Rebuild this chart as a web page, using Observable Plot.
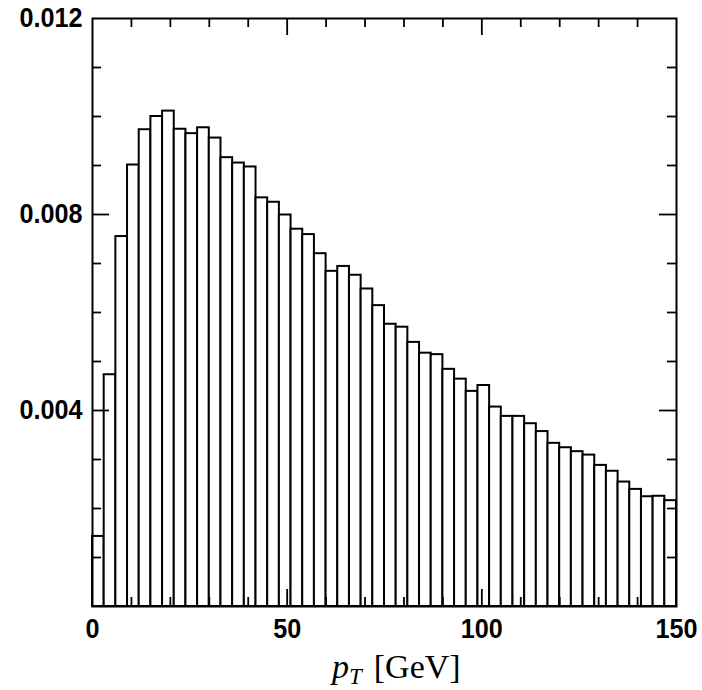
<!DOCTYPE html>
<html>
<head>
<meta charset="utf-8">
<script src="https://cdn.jsdelivr.net/npm/d3@7"></script>
<script src="https://cdn.jsdelivr.net/npm/@observablehq/plot@0.6"></script>
<style>
  body { margin: 0; background: #fff; }
  #chart svg { display: block; }
</style>
</head>
<body>
<div id="chart"></div>
<script>
// Histogram bins (GeV)
const binStart = [0,3,6,9,12,15,18,21,24,27,30,33,36,39,42,45,48,51,54,57,60,63,66,69,72,75,78,81,84,87,90,93,96,99,102,105,108,111,114,117,120,123,126,129,132,135,138,141,144,147];
const binEnd   = [3,6,9,12,15,18,21,24,27,30,33,36,39,42,45,48,51,54,57,60,63,66,69,72,75,78,81,84,87,90,93,96,99,102,105,108,111,114,117,120,123,126,129,132,135,138,141,144,147,150];
// Bin contents (normalised)
const density = [
  0.00143, 0.00473, 0.00755, 0.00901, 0.00973, 0.01000, 0.01011, 0.00974, 0.00965, 0.00977,
  0.00956, 0.00916, 0.00905, 0.00897, 0.00834, 0.00825, 0.00799, 0.00770, 0.00759, 0.00720,
  0.00684, 0.00694, 0.00676, 0.00648, 0.00614, 0.00576, 0.00570, 0.00539, 0.00517, 0.00514,
  0.00484, 0.00464, 0.00439, 0.00451, 0.00407, 0.00388, 0.00388, 0.00373, 0.00357, 0.00333,
  0.00324, 0.00316, 0.00309, 0.00288, 0.00276, 0.00254, 0.00239, 0.00224, 0.00225, 0.00216
];
// Tick labels and tick positions
const xTickLabels = [0, 50, 100, 150];
const yTickLabels = [0.004, 0.008, 0.012];
const xMajorTicks = [50, 100];
const xMinorTicks = [10, 20, 30, 40, 60, 70, 80, 90, 110, 120, 130, 140];
const yMajorTicks = [0.004, 0.008];
const yMinorTicks = [0.001, 0.002, 0.003, 0.005, 0.006, 0.007, 0.009, 0.010, 0.011];

const bins = binStart.map((s, i) => ({x1: s, x2: binEnd[i], y: density[i]}));

const W = 702, H = 690;
const mL = 92, mR = 26, mT = 18, mB = 84;
const plotW = W - mL - mR, plotH = H - mT - mB;
const minorLen = 9, majorLen = 17;
const tickFont = "'Liberation Sans', Arial, Helvetica, sans-serif";
const tickStroke = 1.8;

const chart = Plot.plot({
  width: W,
  height: H,
  marginLeft: mL,
  marginRight: mR,
  marginTop: mT,
  marginBottom: mB,
  style: {background: "white", overflow: "visible"},
  x: {domain: [0, 150]},
  y: {domain: [0, 0.012]},
  marks: [
    Plot.rectY(bins, {x1: "x1", x2: "x2", y: "y", fill: "white", stroke: "black", strokeWidth: 2}),
    // bottom ticks
    Plot.tickX(xMinorTicks, {x: d => d, insetTop: plotH - minorLen, stroke: "black", strokeWidth: tickStroke}),
    Plot.tickX(xMajorTicks, {x: d => d, insetTop: plotH - majorLen, stroke: "black", strokeWidth: tickStroke}),
    // top ticks
    Plot.tickX(xMinorTicks, {x: d => d, insetBottom: plotH - minorLen, stroke: "black", strokeWidth: tickStroke}),
    Plot.tickX(xMajorTicks, {x: d => d, insetBottom: plotH - majorLen, stroke: "black", strokeWidth: tickStroke}),
    // left ticks
    Plot.tickY(yMinorTicks, {y: d => d, insetRight: plotW - minorLen, stroke: "black", strokeWidth: tickStroke}),
    Plot.tickY(yMajorTicks, {y: d => d, insetRight: plotW - majorLen, stroke: "black", strokeWidth: tickStroke}),
    // right ticks
    Plot.tickY(yMinorTicks, {y: d => d, insetLeft: plotW - minorLen, stroke: "black", strokeWidth: tickStroke}),
    Plot.tickY(yMajorTicks, {y: d => d, insetLeft: plotW - majorLen, stroke: "black", strokeWidth: tickStroke}),
    Plot.frame({stroke: "black", strokeWidth: 2}),
    Plot.axisX({ticks: xTickLabels, tickSize: 0, tickPadding: 12, label: null,
      fontSize: 28, fontWeight: "bold", fontFamily: tickFont, fill: "black", tickFormat: d => String(d)}),
    Plot.axisY({ticks: yTickLabels, tickSize: 0, tickPadding: 10, label: null,
      fontSize: 28, fontWeight: "bold", fontFamily: tickFont, fill: "black", tickFormat: d => d.toFixed(3)})
  ]
});

document.getElementById("chart").appendChild(chart);

const svg = d3.select(chart);

// condense the tick label glyphs horizontally (narrow Helvetica look)
svg.selectAll('g[aria-label$="tick label"] text').each(function () {
  const t = d3.select(this);
  const tr = t.attr("transform");
  if (tr) {
    t.attr("transform", tr + " scale(0.9,1)");
  } else {
    const x = +t.attr("x") || 0, y = +t.attr("y") || 0;
    t.attr("x", null).attr("y", null).attr("transform", `translate(${x},${y}) scale(0.9,1)`);
  }
});

// x-axis title with math subscript
const lab = svg.append("text")
  .attr("x", mL + 240)
  .attr("y", 678)
  .attr("text-anchor", "start")
  .style("font-family", "'Liberation Serif', 'DejaVu Serif', serif")
  .style("font-size", "34px")
  .attr("fill", "black");
lab.append("tspan").attr("font-style", "italic").text("p");
lab.append("tspan").attr("font-style", "italic").attr("font-size", "23px").attr("dy", 6).text("T");
lab.append("tspan").attr("dy", -6).attr("dx", 12).text("[GeV]");
</script>
</body>
</html>
